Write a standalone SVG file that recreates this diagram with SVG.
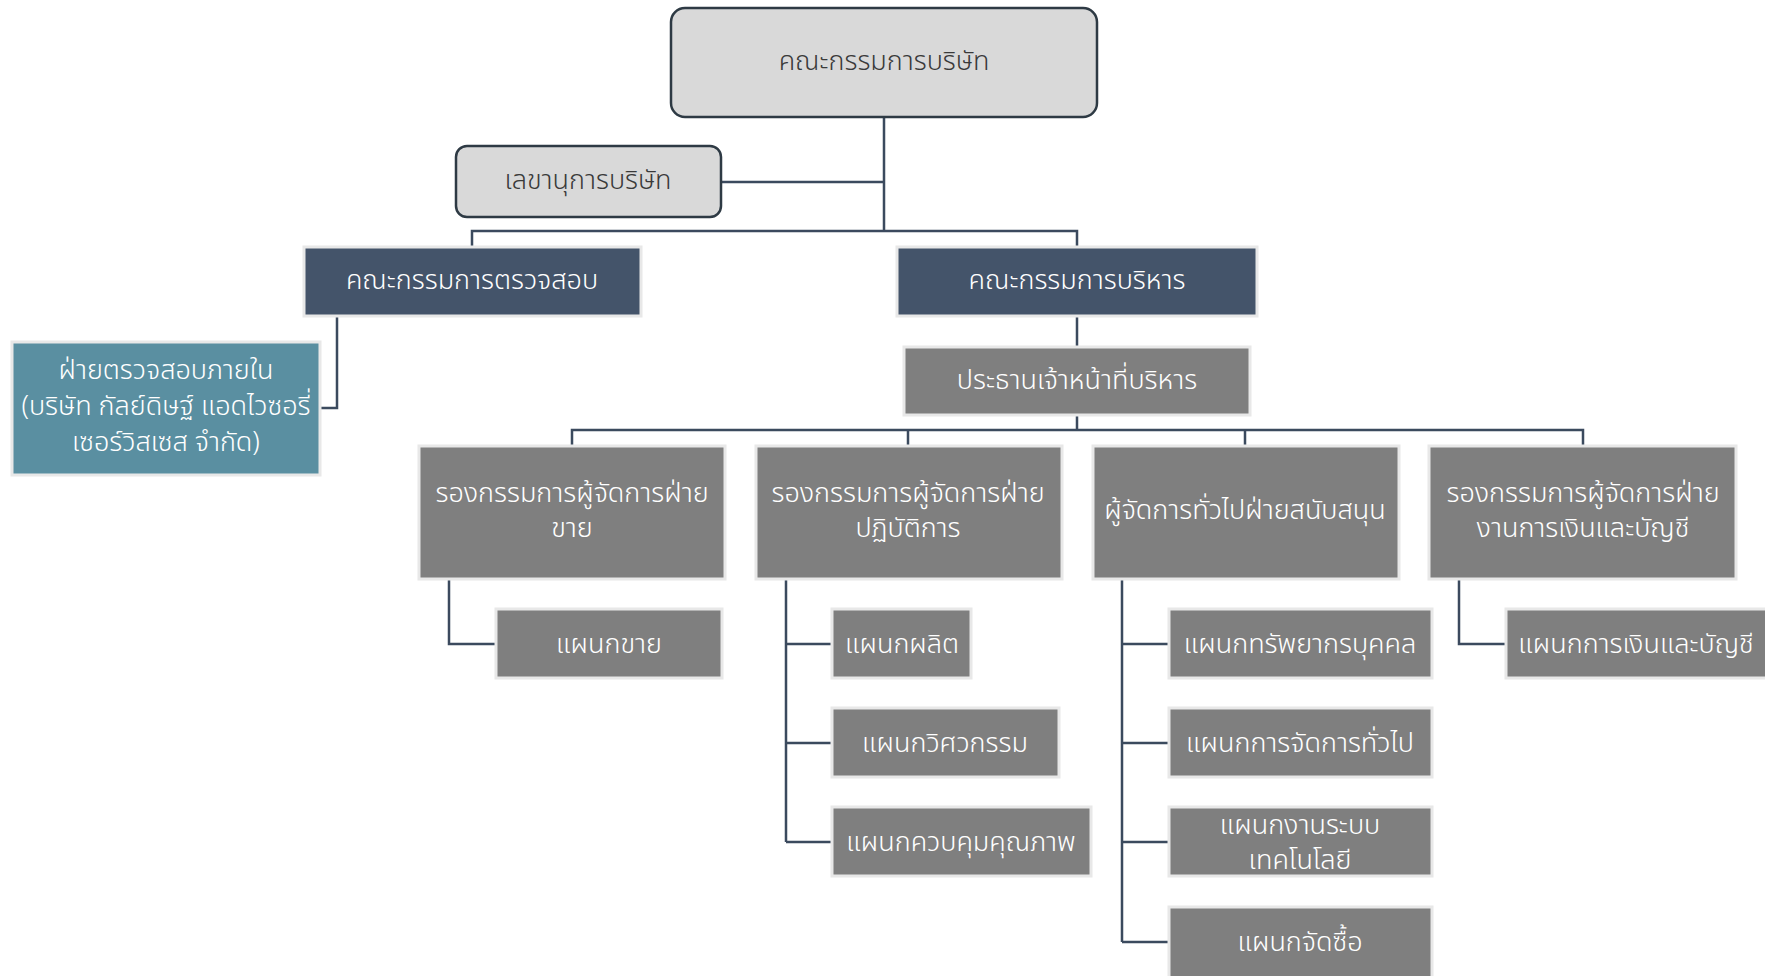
<svg xmlns="http://www.w3.org/2000/svg" width="1765" height="976" viewBox="0 0 1765 976">
<style>
text{font-family:"Noto Sans Thai","Noto Sans","DejaVu Sans",sans-serif;font-size:27px;font-weight:300;text-anchor:middle;dominant-baseline:central;fill:#ffffff}
.dk{fill:#3a3a3a}
.rr{fill:#d9d9d9;stroke:#2e3a44;stroke-width:2.5}
.navy{fill:#44546a;stroke:#e8e8e8;stroke-width:3}
.teal{fill:#5a8fa1;stroke:#e8e8e8;stroke-width:3}
.gray{fill:#7f7f7f;stroke:#e8e8e8;stroke-width:3}
.c{fill:none;stroke:#3b4a5e;stroke-width:2.5}
</style>
<g id="connectors">
<path class="c" d="M884 117V231M721 182H884M472 247V231H1077V247"/>
<path class="c" d="M337 316V408H320"/>
<path class="c" d="M1077 316V347M1077 415V430M572 446V430H1583V446M908 430V446M1245 430V446"/>
<path class="c" d="M449 579V644H495"/>
<path class="c" d="M786 579V842M786 644H832M786 743H832M786 842H832"/>
<path class="c" d="M1122 579V942M1122 644H1169M1122 743H1169M1122 842H1169M1122 942H1169"/>
<path class="c" d="M1459 579V644H1506"/>
</g>
<g id="board"><rect class="rr" x="671" y="8" width="426" height="109" rx="14"/><text class="dk" x="884" y="61">คณะกรรมการบริษัท</text></g>
<g id="secretary"><rect class="rr" x="456" y="146" width="265" height="71" rx="11"/><text class="dk" x="588" y="180">เลขานุการบริษัท</text></g>
<g id="audit-committee"><rect class="navy" x="304" y="247" width="337" height="69"/><text x="472" y="280">คณะกรรมการตรวจสอบ</text></g>
<g id="exec-committee"><rect class="navy" x="897" y="247" width="360" height="69"/><text x="1077" y="280">คณะกรรมการบริหาร</text></g>
<g id="internal-audit"><rect class="teal" x="12" y="342" width="308" height="133"/><text x="166" y="370">ฝ่ายตรวจสอบภายใน</text><text x="166" y="406">(บริษัท กัลย์ดิษฐ์ แอดไวซอรี่</text><text x="166" y="442">เซอร์วิสเซส จำกัด)</text></g>
<g id="ceo"><rect class="gray" x="904" y="347" width="346" height="68"/><text x="1077" y="380">ประธานเจ้าหน้าที่บริหาร</text></g>
<g id="vp-sales"><rect class="gray" x="419" y="446" width="306" height="133"/><text x="572" y="493">รองกรรมการผู้จัดการฝ่าย</text><text x="572" y="528">ขาย</text></g>
<g id="vp-ops"><rect class="gray" x="756" y="446" width="306" height="133"/><text x="908" y="493">รองกรรมการผู้จัดการฝ่าย</text><text x="908" y="528">ปฏิบัติการ</text></g>
<g id="gm-support"><rect class="gray" x="1093" y="446" width="306" height="133"/><text x="1245" y="510">ผู้จัดการทั่วไปฝ่ายสนับสนุน</text></g>
<g id="vp-finance"><rect class="gray" x="1429" y="446" width="307" height="133"/><text x="1583" y="493">รองกรรมการผู้จัดการฝ่าย</text><text x="1583" y="528">งานการเงินและบัญชี</text></g>
<g id="dept-sales"><rect class="gray" x="496" y="609" width="226" height="69"/><text x="609" y="644">แผนกขาย</text></g>
<g id="dept-production"><rect class="gray" x="832" y="609" width="139" height="69"/><text x="902" y="644">แผนกผลิต</text></g>
<g id="dept-engineering"><rect class="gray" x="832" y="708" width="227" height="69"/><text x="945" y="743">แผนกวิศวกรรม</text></g>
<g id="dept-qc"><rect class="gray" x="832" y="807" width="259" height="69"/><text x="961" y="842">แผนกควบคุมคุณภาพ</text></g>
<g id="dept-hr"><rect class="gray" x="1169" y="609" width="263" height="69"/><text x="1300" y="644">แผนกทรัพยากรบุคคล</text></g>
<g id="dept-admin"><rect class="gray" x="1169" y="708" width="263" height="69"/><text x="1300" y="743">แผนกการจัดการทั่วไป</text></g>
<g id="dept-it"><rect class="gray" x="1169" y="807" width="263" height="69"/><text x="1300" y="825">แผนกงานระบบ</text><text x="1300" y="860">เทคโนโลยี</text></g>
<g id="dept-purchasing"><rect class="gray" x="1169" y="907" width="263" height="72"/><text x="1300" y="942">แผนกจัดซื้อ</text></g>
<g id="dept-finance"><rect class="gray" x="1506" y="609" width="264" height="69"/><text x="1636" y="644">แผนกการเงินและบัญชี</text></g>
</svg>
